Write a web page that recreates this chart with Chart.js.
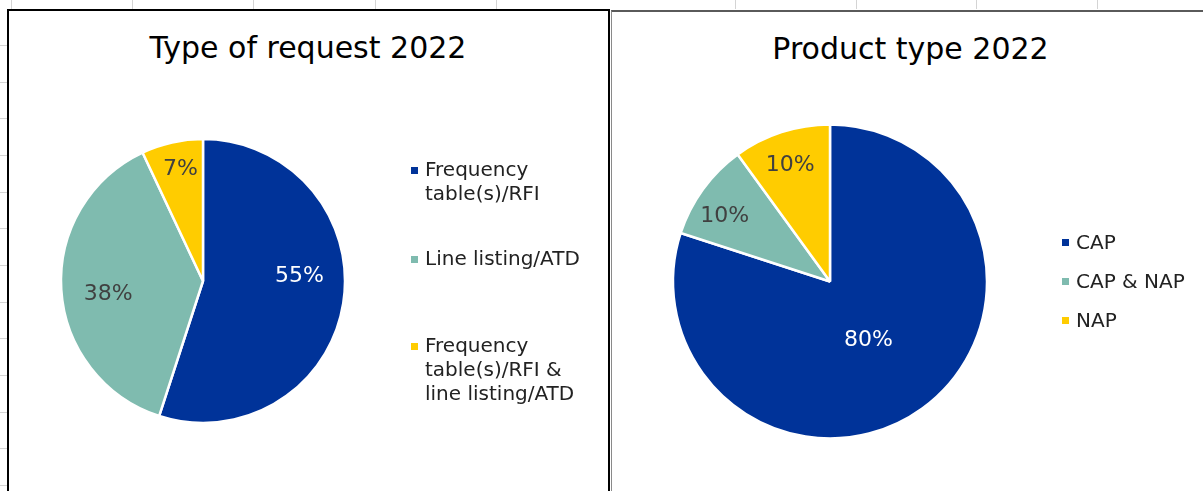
<!DOCTYPE html>
<html>
<head>
<meta charset="utf-8">
<script src="https://cdn.jsdelivr.net/npm/chart.js@4.4.0/dist/chart.umd.min.js"></script>
<style>
  html, body { margin:0; padding:0; background:#fff; width:1203px; height:491px; overflow:hidden; position:relative; font-family:"DejaVu Sans", Verdana, sans-serif; }
  .grid-v { position:absolute; top:0; width:1px; height:9px; background:#d4d4d4; }
  .grid-h { position:absolute; left:0; width:7px; height:1px; background:#d4d4d4; }
  .frame1 { position:absolute; left:7px; top:9px; width:599px; height:500px; border:2px solid #000; border-bottom:none; }
  .frame2 { position:absolute; left:611px; top:10px; width:600px; height:500px; border-top:2px solid #5a5a5a; border-left:1px solid #8a8a8a; }
  .title { position:absolute; font-size:30px; line-height:36px; color:#000; text-align:center; white-space:nowrap; }
  .box { position:absolute; }
  .legend { position:absolute; font-size:20px; line-height:24px; color:#222; }
  .legend .item { position:relative; padding-left:14px; white-space:nowrap; }
  .legend .mk { position:absolute; left:0; width:7px; height:7px; }
</style>
</head>
<body>
<div id="gridlines"></div>
<div class="frame1"></div>
<div class="frame2"></div>

<div class="title" style="left:108px; top:30px; width:400px;">Type of request 2022</div>
<div class="title" style="left:760px; top:31px; width:301px;">Product type 2022</div>

<div class="box" style="left:0; top:0; width:610px; height:491px;"><canvas id="c1"></canvas></div>
<div class="box" style="left:612px; top:0; width:591px; height:491px;"><canvas id="c2"></canvas></div>

<div class="legend" id="leg1" style="left:411px; top:157px;"></div>
<div class="legend" id="leg2" style="left:1062px; top:230px;"></div>

<script>
// ---- data ----
const requestTitle = "Type of request 2022";
const requestLabels = [["Frequency", "table(s)/RFI"], ["Line listing/ATD"], ["Frequency", "table(s)/RFI &", "line listing/ATD"]];
const requestValues = [55, 38, 7];

const productTitle = "Product type 2022";
const productLabels = [["CAP"], ["CAP & NAP"], ["NAP"]];
const productValues = [80, 10, 10];

// ---- styles ----
const sliceColors = ["#003399", "#7FBBAF", "#FFCC00"];
const labelColors = ["#ffffff", "#404040", "#404040"];

// label placement (fraction of radius, angular shift in degrees)
const place1 = [{r:0.68, da:-12}, {r:0.675, da:-4.6}, {r:0.80, da:1.2}];
const place2 = [{r:0.45, da:3}, {r:0.79, da:-4.2}, {r:0.785, da:-0.8}];

// gridlines (Excel cells behind)
(function(){
  const g = document.getElementById('gridlines');
  [11, 132, 253, 375, 496, 735, 856, 976, 1097].forEach(x => {
    const d = document.createElement('div'); d.className = 'grid-v'; d.style.left = x + 'px'; g.appendChild(d);
  });
  [45, 82, 118, 155, 192, 228, 265, 302, 338, 375, 412, 448, 485].forEach(y => {
    const d = document.createElement('div'); d.className = 'grid-h'; d.style.top = y + 'px'; g.appendChild(d);
  });
})();

const pieLabels = {
  id: 'pieLabels',
  afterDatasetsDraw(chart, args, opts) {
    const ctx = chart.ctx;
    const meta = chart.getDatasetMeta(0);
    const data = chart.data.datasets[0].data;
    meta.data.forEach((arc, i) => {
      const p = arc.getProps(['x', 'y', 'startAngle', 'endAngle', 'outerRadius'], true);
      const pl = opts.place[i];
      const a = (p.startAngle + p.endAngle) / 2 + pl.da * Math.PI / 180;
      const rr = p.outerRadius * pl.r;
      ctx.save();
      ctx.font = '22px "DejaVu Sans", Verdana, sans-serif';
      ctx.fillStyle = labelColors[i];
      ctx.textAlign = 'center';
      ctx.textBaseline = 'middle';
      ctx.fillText(data[i] + '%', p.x + Math.cos(a) * rr, p.y + Math.sin(a) * rr);
      ctx.restore();
    });
  }
};

function makePie(id, labels, values, radius, padding, place) {
  return new Chart(document.getElementById(id), {
    type: 'pie',
    data: {
      labels: labels.map(l => l.join(' ')),
      datasets: [{
        data: values,
        backgroundColor: sliceColors,
        borderColor: '#ffffff',
        borderWidth: 2.5,
        hoverOffset: 0
      }]
    },
    options: {
      responsive: true,
      maintainAspectRatio: false,
      animation: false,
      radius: radius,
      layout: { padding: padding },
      plugins: {
        legend: { display: false },
        tooltip: { enabled: false },
        title: { display: false },
        pieLabels: { place: place }
      }
    },
    plugins: [pieLabels]
  });
}

makePie('c1', requestLabels, requestValues, 142, {left:20, right:224, top:80, bottom:9}, place1);
makePie('c2', productLabels, productValues, 157, {left:20, right:175, top:80, bottom:8}, place2);

function makeLegend(id, labels, gaps, markerTop) {
  const el = document.getElementById(id);
  labels.forEach((lines, i) => {
    const it = document.createElement('div');
    it.className = 'item';
    it.style.marginTop = (i === 0 ? 0 : gaps[i - 1]) + 'px';
    const mk = document.createElement('span');
    mk.className = 'mk';
    mk.style.background = sliceColors[i];
    mk.style.top = markerTop + 'px';
    it.appendChild(mk);
    lines.forEach(t => { const l = document.createElement('div'); l.textContent = t; it.appendChild(l); });
    el.appendChild(it);
  });
}
makeLegend('leg1', requestLabels, [41, 63], 10);
makeLegend('leg2', productLabels, [15, 15], 9);
</script>
</body>
</html>
